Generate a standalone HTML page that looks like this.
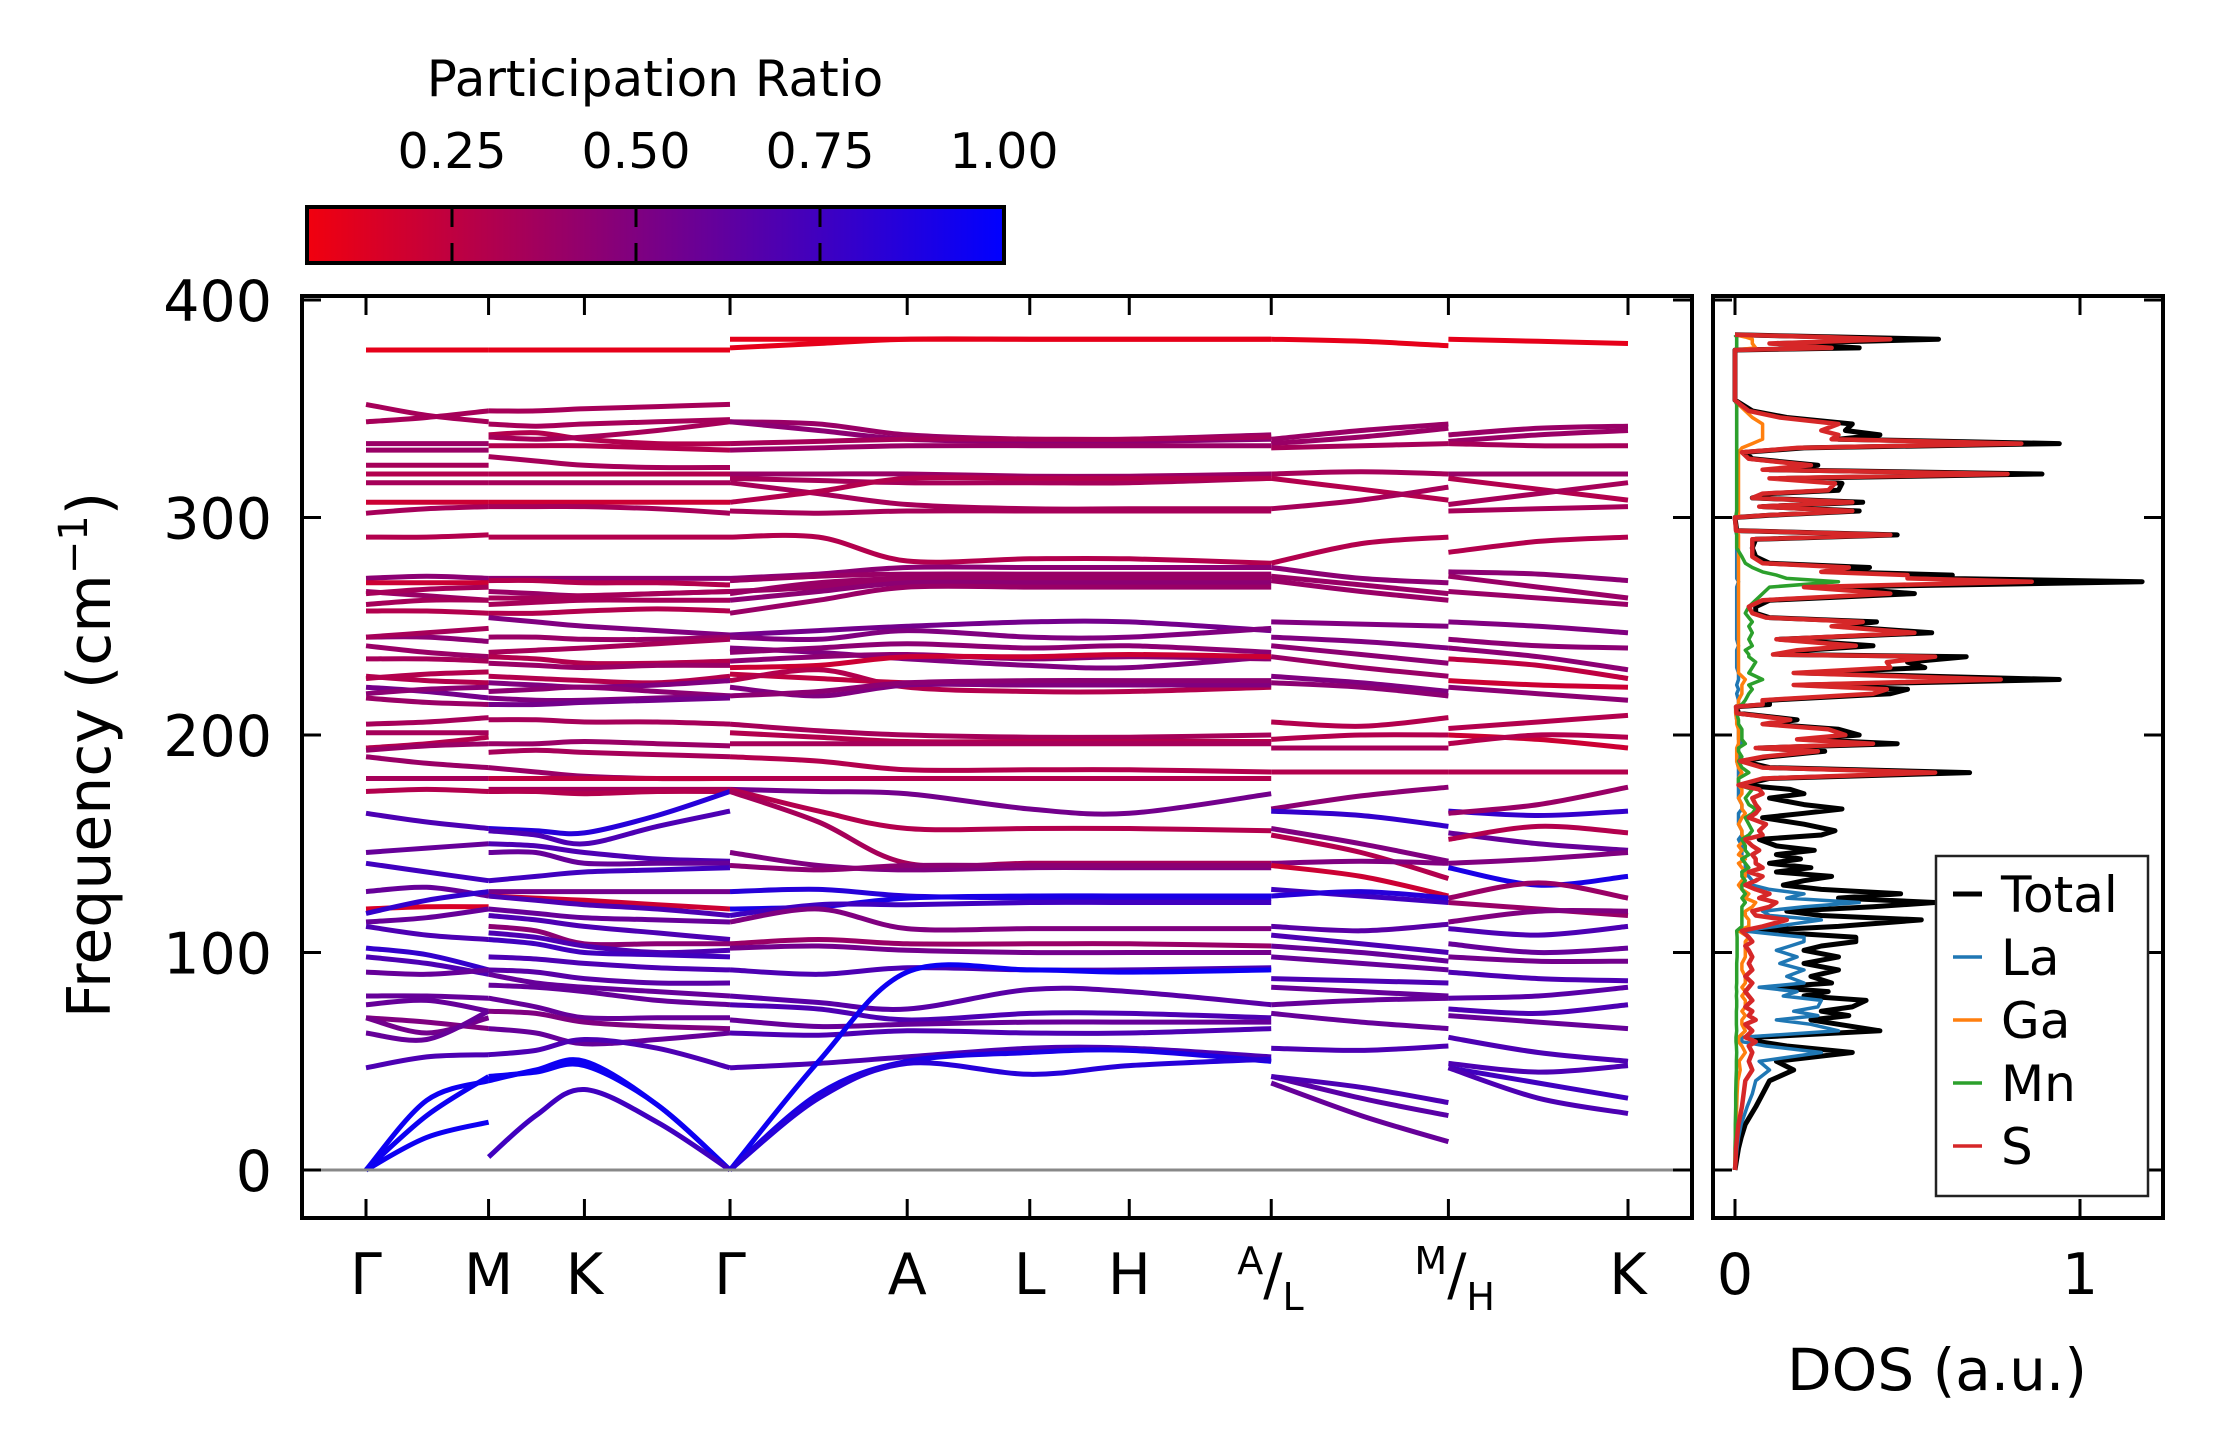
<!DOCTYPE html>
<html><head><meta charset="utf-8"><style>
html,body{margin:0;padding:0;background:#fff}
svg{display:block;font-family:"DejaVu Sans","Liberation Sans",sans-serif}
</style></head><body>
<svg id="fig" width="2222" height="1455" viewBox="0 0 2222 1455" xmlns="http://www.w3.org/2000/svg">
<defs>
<linearGradient id="cbgrad" x1="0" x2="1" y1="0" y2="0">
<stop offset="0" stop-color="rgb(241,0,14)"/><stop offset="1" stop-color="rgb(0,0,255)"/>
</linearGradient>
<clipPath id="bandclip"><rect x="302" y="296" width="1390" height="922"/></clipPath>
<clipPath id="dosclip"><rect x="1713" y="296" width="450" height="922"/></clipPath>
</defs>
<g>
<text x="655" y="96" font-size="50" text-anchor="middle">Participation Ratio</text>
<rect x="307" y="207" width="697" height="56" fill="url(#cbgrad)" stroke="#000" stroke-width="4"/>
<g id="cbticks"></g>
</g>
<g id="bands" clip-path="url(#bandclip)"></g>
<line x1="302" y1="1170" x2="1692" y2="1170" stroke="#888" stroke-width="3"/>
<rect x="302" y="296" width="1390" height="922" fill="none" stroke="#000" stroke-width="4"/>
<g id="bandaxes"></g>
<text transform="translate(110,755) rotate(-90)" font-size="60" text-anchor="middle">Frequency (cm<tspan baseline-shift="super" font-size="40">−1</tspan>)</text>
<g id="dos" clip-path="url(#dosclip)"></g>
<rect x="1713" y="296" width="450" height="922" fill="none" stroke="#000" stroke-width="4"/>
<g id="dosaxes"></g>
<text x="1937" y="1390" font-size="58" text-anchor="middle">DOS (a.u.)</text>
<g>
<rect x="1936" y="856" width="212" height="340" fill="#fff" stroke="#222" stroke-width="2.5"/>
<g id="legend"></g>
</g>
</svg>
<script>
// ---------------- data ----------------
const yTicks = [0, 100, 200, 300, 400];
const cbTicks = [0.25, 0.50, 0.75, 1.00];
const cbTickLabels = ["0.25", "0.50", "0.75", "1.00"];
const kLabels = ["Γ", "M", "K", "Γ", "A", "L", "H", "A/L", "M/H", "K"];
const kPos = [0, 1.01, 1.8, 3, 4.46, 5.47, 6.29, 7.46, 8.92, 10.4];
const seg1Nodes = [0, 0.5, 1.01];
const seg2Nodes = [1.01, 1.4, 1.8, 2.4, 3];
const seg3Nodes = [3, 3.73, 4.46, 5.47, 6.29, 7.46];
const seg4Nodes = [7.46, 8.2, 8.92];
const seg5Nodes = [8.92, 9.66, 10.4];
const seg1Bands = [
[377,377,377,.1],[352,347,344,.35],[344,346,349,.35],[334,334,334,.4],[331,331,331,.4],
[324,324,324,.35],[320,320,320,.3],[316,316,316,.35],[307,307,307,.2],[302,304,305,.35],
[291,291,292,.3],[272,273,272,.45],[270,270,270,.2],[266,264,262,.4],[265,267,268,.35],
[260,262,262,.35],[257,257,256,.3],[245,245,243,.45],[245,247,249,.35],[241,238,236,.4],
[235,235,234,.35],[227,225,224,.3],[226,228,229,.3],[222,220,217,.55],[219,221,222,.45],
[217,215,214,.4],[205,206,208,.35],[201,201,201,.35],[194,196,199,.3],
[193,195,196,.4],[190,187,185,.4],[180,180,180,.35],[174,175,174,.3],[164,160,157,.7],
[146,148,150,.6],[141,137,133,.75],[128,130,126,.6],[120,121,121,.15],[118,124,128,.8],
[114,116,120,.6],[112,108,106,.7],[102,99,92,.8],[98,95,90,.7],[91,90,92,.6],
[80,80,79,.6],[76,78,73,.6],[70,68,65,.5],[70,63,70,.55],[63,60,73,.6],[47,52,53,.7],
[0,32,41,.95],[0,25,43,.95],[0,15,22,.95]
];
const seg2Bands = [
[377,377,377,377,377,.1],[349,349,350,351,352,.35],[343,342,343,344,345,.35],[338,339,336,334,334,.3],
[337,336,337,340,344,.35],[333,333,333,332,331,.3],[328,326,324,323,323,.35],[320,320,320,320,320,.3],
[316,316,316,316,316,.35],[307,307,307,307,307,.2],[305,305,305,304,302,.35],[291,291,291,291,291,.3],
[272,272,272,272,272,.45],[271,271,270,270,269,.3],[266,265,264,265,266,.4],[263,263,264,265,266,.35],
[260,261,262,262,262,.35],[256,256,257,258,257,.3],[254,252,250,248,246,.5],[245,245,244,244,245,.4],
[238,239,240,242,244,.35],[236,235,233,233,234,.3],[233,232,231,232,232,.4],[227,226,225,224,227,.3],
[224,223,222,223,225,.5],[220,221,222,220,218,.45],[217,216,216,217,218,.5],[214,214,215,216,217,.55],
[207,207,206,206,205,.35],[196,196,197,196,195,.4],[192,193,192,191,190,.35],[185,183,181,180,180,.4],
[180,180,180,180,180,.25],[175,175,175,175,175,.35],[174,174,173,174,174,.3],
[157,156,155,163,174,.85],[156,154,150,158,165,.7],[150,149,146,143,142,.7],[146,146,141,141,141,.6],
[133,135,137,138,139,.75],[128,128,128,128,128,.55],[126,125,124,122,120,.2],[126,124,122,120,117,.7],
[120,118,116,115,114,.6],[117,115,112,109,106,.7],[112,110,104,104,104,.45],[109,107,103,100,101,.7],
[106,104,100,99,98,.75],[98,97,95,93,92,.7],[92,91,88,86,86,.65],[90,86,84,82,80,.6],
[85,84,82,78,76,.6],[79,75,70,70,70,.6],[73,72,68,66,65,.5],[65,63,58,60,63,.6],[53,55,60,56,47,.7],
[43,45,48,30,0,.95],[41,46,50,30,0,.95],[6,25,37,22,0,.75]
];
const seg3Bands = [
[382,382,382,382,382,382,.1],[378,380,382,382,382,382,.1],[344,343,338,336,336,338,.4],[344,340,336,335,335,336,.45],
[334,335,336,336,336,337,.35],[331,332,333,333,333,333,.4],[320,320,320,319,319,320,.4],[318,317,316,316,316,318,.35],
[316,311,306,304,304,304,.35],[307,312,318,318,318,318,.3],[303,302,303,303,303,303,.35],[291,291,280,281,281,279,.3],
[272,274,277,277,277,277,.45],[271,273,274,274,274,274,.4],[266,268,272,273,273,272,.4],[265,270,272,272,272,272,.4],
[262,266,270,270,270,270,.45],[256,262,268,268,268,268,.4],[246,248,250,252,252,248,.55],[245,244,248,245,245,249,.5],
[240,238,235,232,231,236,.5],[238,240,242,240,241,238,.45],[234,236,237,235,236,235,.45],[231,232,236,236,237,236,.2],
[228,226,224,223,224,224,.25],[225,230,222,220,220,222,.3],[222,218,223,223,223,223,.5],[218,220,224,225,225,225,.45],
[205,202,200,199,199,200,.35],[201,199,197,197,197,197,.3],[196,196,196,196,196,196,.35],[190,188,184,184,184,183,.3],
[180,180,180,180,180,180,.3],[175,174,173,166,164,173,.55],[175,165,157,157,157,156,.3],[174,160,141,141,141,141,.35],
[146,140,138,139,139,139,.5],[140,138,140,140,140,140,.45],[128,129,126,125,124,125,.85],[120,121,125,126,126,126,.9],
[117,122,122,123,123,123,.75],[114,120,111,111,111,111,.5],[104,106,104,104,104,103,.4],[102,103,101,100,100,100,.55],
[92,90,93,92,92,93,.7],[80,77,74,83,82,76,.65],[76,74,69,72,72,70,.7],[69,66,67,68,68,68,.6],[63,62,64,63,63,65,.7],
[47,49,52,56,56,52,.7],[0,50,91,92,91,92,.95],[0,35,50,54,55,50,.9],[0,33,49,44,48,51,.85]
];
const seg4Bands = [
[382,381,379,.1],[336,340,343,.4],[334,337,341,.4],[332,333,334,.35],[320,321,320,.35],[318,313,308,.3],
[304,308,314,.35],[279,288,291,.3],[277,272,270,.45],[273,269,265,.4],[271,266,262,.4],[252,251,250,.5],
[245,243,240,.5],[241,237,233,.45],[236,231,227,.4],[227,224,220,.5],[224,222,218,.45],[206,204,208,.3],
[198,200,200,.3],[194,194,194,.35],[183,183,183,.3],[166,172,176,.45],[165,163,158,.8],[157,150,142,.5],
[154,146,134,.3],[141,142,141,.5],[140,135,126,.2],[129,126,123,.75],[126,128,125,.85],[112,110,113,.65],
[108,104,100,.7],[103,100,96,.6],[98,95,92,.6],[88,87,86,.7],[84,82,80,.6],[76,78,79,.6],[72,68,65,.6],
[56,55,57,.7],[43,33,25,.65],[43,38,31,.7],[40,25,13,.6]
];
const seg5Bands = [
[382,381,380,.1],[338,341,342,.4],[335,338,340,.4],[334,333,333,.35],[320,320,320,.4],[318,313,308,.3],
[306,311,316,.35],[303,304,305,.35],[284,289,291,.3],[275,274,271,.45],[273,268,263,.4],[266,263,260,.4],
[252,250,247,.5],[244,241,240,.45],[240,236,230,.45],[235,232,226,.25],[225,223,222,.2],[222,219,216,.45],
[203,206,209,.3],[200,198,194,.2],[196,200,199,.3],[183,183,183,.3],[165,163,165,.8],[164,168,176,.4],
[155,150,147,.6],[152,158,155,.3],[141,143,146,.5],[139,131,135,.9],[125,132,125,.4],[123,120,117,.4],
[114,119,119,.5],[111,108,112,.7],[104,100,102,.6],[98,96,96,.55],[91,88,87,.7],[79,80,84,.65],
[74,72,76,.7],[71,68,65,.6],[61,54,50,.7],[49,45,48,.7],[47,40,33,.75],[47,33,26,.7]
];
const dosFreq = [0,5,10,15,21,29,35,41,46,50,54,57,59,61,64,67,69,71,73,75,78,80,82,84,86,89,92,95,98,101,103,105,107,110,112,115,117,119,121,123,125,127,129,131,133,135,137,139,141,143,145,147,149,152,154,156,159,162,164,166,168,171,173,175,177,180,182.7,185,188,190,192.5,194,196,198,200,202.6,205,207,210,213,214,216,219,221,223,225.5,228.5,231,233.5,236,237,239,241,244,247,250,252,254,256,259,262,265,268,270.5,272,273.5,275,277,279,282,286,290,292,294,300,301,303,305,307,309,311,312.5,315.7,318,320,322,324,327,330,332,334,336,338,340,343,346,349,352,354,377,378,380,382,383,384];
const dosTotal = [0,.005,.01,.018,.03,.06,.08,.1,.17,.12,.34,.15,.07,.06,.42,.3,.22,.33,.25,.34,.38,.2,.27,.1,.28,.22,.3,.2,.3,.2,.25,.35,.35,.05,.3,.54,.25,.15,.4,.58,.3,.48,.25,.14,.2,.28,.12,.22,.1,.19,.12,.23,.12,.07,.25,.29,.2,.08,.2,.31,.2,.1,.2,.16,.02,.1,.68,.1,.02,.1,.26,.07,.47,.2,.36,.3,.1,.18,.01,.005,.1,.1,.45,.5,.2,.94,.2,.55,.5,.67,.13,.2,.4,.13,.57,.3,.41,.1,.06,.06,.1,.52,.27,1.18,.6,.63,.3,.39,.1,.06,.05,.06,.47,.005,0,.1,.36,.08,.37,.05,.1,.3,.31,.15,.89,.1,.24,.05,.03,.2,.94,.3,.42,.32,.34,.15,.05,.02,0,0,.36,.12,.59,.3,0];
const dosS = [0,.002,.003,.006,.01,.02,.025,.03,.05,.04,.05,.04,.06,.03,.05,.03,.06,.04,.05,.03,.05,.04,.03,.04,.05,.03,.05,.04,.05,.04,.03,.05,.04,.02,.08,.15,.06,.05,.1,.12,.07,.1,.06,.03,.06,.08,.04,.08,.06,.06,.05,.07,.05,.03,.08,.07,.09,.04,.06,.07,.06,.05,.08,.07,.01,.08,.58,.08,.015,.08,.24,.06,.4,.18,.32,.27,.08,.16,.005,.003,.08,.08,.4,.44,.17,.77,.17,.45,.44,.58,.11,.18,.35,.12,.52,.28,.37,.09,.05,.04,.08,.45,.2,.86,.5,.5,.25,.33,.08,.05,.05,.05,.45,.003,0,.09,.34,.07,.34,.05,.08,.27,.29,.1,.79,.08,.22,.04,.02,.18,.83,.28,.3,.25,.3,.13,.04,.015,0,0,.28,.1,.45,.25,0];
const dosLa = [0,.003,.006,.01,.018,.035,.05,.06,.1,.07,.25,.09,.02,.02,.3,.22,.12,.24,.17,.24,.25,.14,.18,.07,.2,.15,.2,.13,.18,.12,.16,.2,.2,.02,.12,.25,.1,.08,.2,.36,.15,.2,.1,.05,.05,.04,.02,.03,.03,.02,.02,.02,.02,.01,.02,.02,.01,.01,.01,.02,.02,.01,.01,.01,.01,.01,.01,.01,.005,.01,.01,.01,.02,.01,.01,.01,.01,.005,.002,.002,.01,.01,.005,.01,.005,.01,.01,.005,.005,.005,.005,.005,.01,.005,.005,.005,.005,.005,.005,.005,.005,.005,.005,.01,.005,.005,.005,.005,.005,.005,.005,.005,.005,.002,0,.005,.005,.005,.005,.005,.005,.005,.005,.005,.005,.005,.005,.005,.005,.005,.005,.005,.005,.005,.005,.005,.005,.005,0,0,.005,.005,.005,.005,0];
const dosGa = [0,0,.001,.002,.003,.005,.006,.008,.015,.012,.03,.02,.01,.01,.03,.02,.02,.03,.02,.03,.03,.02,.03,.02,.03,.03,.02,.02,.03,.03,.03,.03,.04,.01,.04,.04,.03,.03,.05,.06,.03,.04,.02,.01,.02,.03,.03,.02,.01,.03,.01,.02,.01,.03,.02,.02,.01,.02,.03,.02,.02,.01,.02,.02,.01,.01,.02,.01,.005,.005,.005,.005,.01,.01,.01,.01,.005,.005,.002,.002,.01,.01,.02,.02,.02,.03,.01,.01,.01,.01,.01,.01,.01,.01,.01,.01,.01,.01,.01,.01,.01,.01,.01,.01,.01,.01,.01,.01,.01,.01,.01,.01,.01,.005,0,.01,.01,.01,.01,.01,.01,.01,.01,.01,.01,.01,.01,.01,.01,.02,.05,.08,.08,.08,.08,.05,.03,.01,0,0,.06,.05,.05,.03,0];
const dosMn = [0,0,0,.001,.001,.002,.002,.003,.004,.004,.005,.004,.003,.003,.005,.004,.004,.004,.004,.005,.005,.004,.005,.004,.005,.005,.005,.005,.006,.006,.006,.006,.006,.005,.02,.02,.02,.02,.02,.03,.02,.03,.02,.02,.03,.02,.02,.04,.03,.02,.04,.03,.03,.02,.04,.05,.04,.03,.05,.06,.04,.03,.04,.05,.01,.01,.04,.02,.01,.02,.01,.01,.03,.02,.02,.02,.01,.01,.005,.005,.02,.03,.04,.05,.04,.08,.04,.05,.06,.04,.04,.03,.05,.04,.05,.04,.05,.04,.03,.04,.06,.08,.1,.3,.15,.12,.08,.05,.03,.02,.005,.005,.005,.003,0,.003,.005,.005,.005,.005,.005,.005,.005,.005,.005,.005,.005,.005,.005,.005,.005,.005,.005,.005,.005,.005,.005,.005,0,0,.005,.005,.005,.005,0];
const legendLabels = ["Total", "La", "Ga", "Mn", "S"];
const legendColors = ["#000000", "#1f77b4", "#ff7f0e", "#2ca02c", "#d62728"];

const NS = "http://www.w3.org/2000/svg";
const yOf = f => 1170 - 2.175 * f;
const xK = k => 366 + (1628 - 366) * (k / 10.4);
const xDos = d => 1735 + 345 * d;
const cbX = v => 452 + (v - 0.25) * 736;
function prColor(p) {
  const r = Math.round(255 * (1 - p)), b = Math.round(255 * p);
  return `rgb(${r},0,${b})`;
}
function mk(tag, attrs, parent) {
  const e = document.createElementNS(NS, tag);
  for (const k in attrs) e.setAttribute(k, attrs[k]);
  parent.appendChild(e);
  return e;
}
function bandPath(nodes, vals) {
  const pts = nodes.map((k, i) => [xK(k), yOf(vals[i])]);
  let d = `M${pts[0][0].toFixed(1)},${pts[0][1].toFixed(1)}`;
  for (let i = 0; i < pts.length - 1; i++) {
    const p0 = pts[Math.max(0, i - 1)], p1 = pts[i], p2 = pts[i + 1], p3 = pts[Math.min(pts.length - 1, i + 2)];
    const c1x = p1[0] + (p2[0] - p0[0]) / 6, c1y = p1[1] + (p2[1] - p0[1]) / 6;
    const c2x = p2[0] - (p3[0] - p1[0]) / 6, c2y = p2[1] - (p3[1] - p1[1]) / 6;
    d += ` C${c1x.toFixed(1)},${c1y.toFixed(1)} ${c2x.toFixed(1)},${c2y.toFixed(1)} ${p2[0].toFixed(1)},${p2[1].toFixed(1)}`;
  }
  return d;
}
const gB = document.getElementById('bands');
[[seg1Nodes, seg1Bands], [seg2Nodes, seg2Bands], [seg3Nodes, seg3Bands], [seg4Nodes, seg4Bands], [seg5Nodes, seg5Bands]].forEach(([nodes, bands]) => {
  bands.forEach(b => {
    const vals = b.slice(0, nodes.length), pr = b[nodes.length];
    const p = mk('path', {d: bandPath(nodes, vals), fill: 'none', stroke: prColor(pr), 'stroke-width': 5, 'stroke-linecap': 'butt'}, gB);
    
    
  });
});
const gA = document.getElementById('bandaxes');
kPos.forEach((k, i) => {
  const x = xK(k);
  const t1 = mk('line', {x1: x, y1: 1218, x2: x, y2: 1199, stroke: '#000', 'stroke-width': 3}, gA);
  
  
  const t2 = mk('line', {x1: x, y1: 296, x2: x, y2: 315, stroke: '#000', 'stroke-width': 3}, gA);
  
  
  const lab = kLabels[i];
  const t = mk('text', {x: x, y: 1294, 'font-size': 57, 'text-anchor': 'middle'}, gA);
  
  
  if (lab.includes('/')) {
    const [a, b] = lab.split('/');
    t.setAttribute('x', x - 34);
    t.setAttribute('text-anchor', 'start');
    const s1 = mk('tspan', {'font-size': 38, dy: -20}, t); s1.textContent = a;
    const s2 = mk('tspan', {'font-size': 57, dy: 20}, t); s2.textContent = '/';
    const s3 = mk('tspan', {'font-size': 38, dy: 16}, t); s3.textContent = b;
  } else t.textContent = lab;
});
yTicks.forEach(v => {
  const y = yOf(v);
  const a = mk('line', {x1: 302, y1: y, x2: 321, y2: y, stroke: '#000', 'stroke-width': 3}, gA);
  
  
  const b = mk('line', {x1: 1673, y1: y, x2: 1692, y2: y, stroke: '#000', 'stroke-width': 3}, gA);
  
  
  const t = mk('text', {x: 272, y: y + 21, 'font-size': 57, 'text-anchor': 'end'}, gA);
  
  
  t.textContent = String(v);
});
const gC = document.getElementById('cbticks');
cbTicks.forEach((v, i) => {
  const x = cbX(v);
  if (v < 0.999) {
    const l1 = mk('line', {x1: x, y1: 207, x2: x, y2: 227, stroke: '#000', 'stroke-width': 3}, gC);
    
    
    const l2 = mk('line', {x1: x, y1: 243, x2: x, y2: 263, stroke: '#000', 'stroke-width': 3}, gC);
    
    
  }
  const t = mk('text', {x: x, y: 168, 'font-size': 49, 'text-anchor': 'middle'}, gC);
  
  
  t.textContent = cbTickLabels[i];
});
const gD = document.getElementById('dos');
const series = [dosTotal, dosLa, dosGa, dosMn, dosS];
const widths = [5, 3.5, 3.5, 3.5, 4.5];
[0, 1, 2, 3, 4].forEach(i => {
  const vals = series[i];
  const d = dosFreq.map((f, j) => (j ? 'L' : 'M') + xDos(vals[j]).toFixed(1) + ',' + yOf(f).toFixed(1)).join(' ');
  const p = mk('path', {d: d, fill: 'none', stroke: legendColors[i], 'stroke-width': widths[i], 'stroke-linejoin': 'round'}, gD);
  
  
});
const gDA = document.getElementById('dosaxes');
[0, 1].forEach(v => {
  const x = xDos(v);
  const a = mk('line', {x1: x, y1: 1218, x2: x, y2: 1199, stroke: '#000', 'stroke-width': 3}, gDA);
  
  
  const b = mk('line', {x1: x, y1: 296, x2: x, y2: 315, stroke: '#000', 'stroke-width': 3}, gDA);
  
  
  const t = mk('text', {x: x, y: 1294, 'font-size': 57, 'text-anchor': 'middle'}, gDA);
  
  
  t.textContent = String(v);
});
yTicks.forEach(v => {
  const y = yOf(v);
  const a = mk('line', {x1: 1713, y1: y, x2: 1732, y2: y, stroke: '#000', 'stroke-width': 3}, gDA);
  
  
  const b = mk('line', {x1: 2144, y1: y, x2: 2163, y2: y, stroke: '#000', 'stroke-width': 3}, gDA);
  
  
});
const gL = document.getElementById('legend');
legendLabels.forEach((lab, i) => {
  const y = 894 + i * 63;
  const l = mk('line', {x1: 1953, y1: y, x2: 1982, y2: y, stroke: legendColors[i], 'stroke-width': i === 0 ? 5 : 3.5}, gL);
  
  
  const t = mk('text', {x: 2001, y: y + 18, 'font-size': 50}, gL);
  
  
  t.textContent = lab;
});
</script>
</body></html>
